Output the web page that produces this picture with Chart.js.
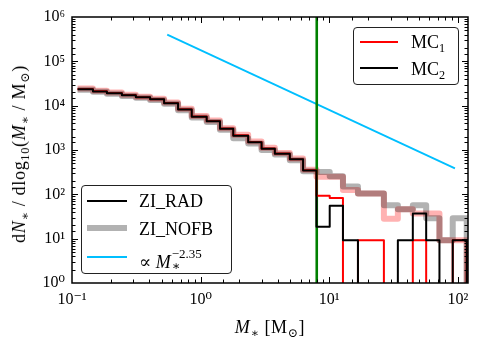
<!DOCTYPE html>
<html>
<head>
<meta charset="utf-8">
<script src="https://cdn.jsdelivr.net/npm/chart.js@4.4.1/dist/chart.umd.min.js"></script>
<style>
html,body{margin:0;padding:0;background:#fff;}
#wrap{position:relative;width:478px;height:354px;overflow:hidden;}
#c{position:absolute;left:0;top:0;}
.t{position:absolute;font-family:'Liberation Serif','DejaVu Serif',serif;color:#000;white-space:nowrap;line-height:1;font-size:18px;}
.t sub{font-size:0.68em;vertical-align:-0.3em;line-height:0;}
.box{position:absolute;border:1.5px solid #222;border-radius:4px;background:rgba(255,255,255,0.85);box-sizing:border-box;}
.sw{position:absolute;}
</style>
</head>
<body>
<div id="wrap">
<canvas id="c" width="478" height="354"></canvas>

<div class="t" id="ytitle" style="left:19px;top:154px;transform:translate(-50%,-50%) rotate(-90deg);letter-spacing:0.7px;">d<i>N</i><sub>∗</sub> / dlog<sub>10</sub>(<i>M</i><sub>∗</sub> / M<sub>⊙</sub>)</div>
<div class="t" id="xtitle" style="left:270px;top:327px;transform:translate(-50%,-50%);letter-spacing:0.6px;"><i>M</i><sub>∗</sub> [M<sub>⊙</sub>]</div>

<div class="box" style="left:353px;top:27px;width:106px;height:58px;"></div>
<div class="sw" style="left:360px;top:40.7px;width:38px;height:2px;background:#ff0000;"></div>
<div class="t" style="left:411px;top:33px;">MC<sub>1</sub></div>
<div class="sw" style="left:360px;top:67.3px;width:38px;height:2px;background:#000;"></div>
<div class="t" style="left:411px;top:60px;">MC<sub>2</sub></div>

<div class="box" style="left:81px;top:185px;width:151px;height:89px;"></div>
<div class="sw" style="left:87px;top:199.7px;width:40px;height:2px;background:#000;"></div>
<div class="t" style="left:139px;top:192px;">ZI_RAD</div>
<div class="sw" style="left:87px;top:225.3px;width:40px;height:6px;background:rgba(0,0,0,0.3);"></div>
<div class="t" style="left:139px;top:220px;">ZI_NOFB</div>
<div class="sw" style="left:87px;top:256.3px;width:40px;height:2px;background:#00bfff;"></div>
<div class="t" style="left:139px;top:250px;">∝ <i>M</i><span style="position:relative;display:inline-block;width:52px;height:1em;"><span style="position:absolute;left:1px;top:-3px;font-size:13px;">−2.35</span><span style="position:absolute;left:1px;top:10px;font-size:12.5px;">∗</span></span></div>
</div>

<script>
// ---- data ----
const binEdges = [0.1105, 0.1455, 0.1868, 0.2443, 0.3136, 0.4049, 0.5201, 0.6679, 0.8531, 1.115,
                  1.414, 1.794, 2.344, 2.979, 3.777, 4.939, 6.262, 7.96, 10.09, 12.79,
                  16.73, 20.99, 26.62, 34.18, 44.68, 56.75, 71.98, 91.29, 117.3];
// ZI_RAD, MC2 (thin black)
const radMC2 = [23600, 21000, 19100, 17100, 15400, 13900, 11400, 8240, 5660, 4450,
                3000, 2100, 1500, 1070, 825, 615, 345,
                18.5, 55.5, 9.25, 0, 0, 0, 9.25, 37, 9.25, 0, 9.25];
// ZI_RAD, MC1 (thin red)
const radMC1 = [23800, 21200, 19300, 17300, 15500, 14000, 11500, 8300, 5700, 4500,
                3050, 2150, 1520, 1080, 830, 620, 350,
                92.5, 83, 0, 9.25, 9.25, 0, 0, 9.25, 0, 0, 9.25];
// ZI_NOFB, MC2 (thick translucent black)
const nofbMC2 = [23000, 20500, 18600, 16600, 15000, 13500, 11000, 7900, 5400, 4300,
                 2850, 1850, 1400, 1000, 790, 590, 330,
                 320, 255, 150, 105, 105, 57, 46, 57, 29, 9.25, 29];
// ZI_NOFB, MC1 (thick translucent red)
const nofbMC1 = [24500, 21800, 19700, 17600, 15900, 14300, 11800, 8500, 5850, 4600,
                 3100, 2200, 1560, 1120, 860, 640, 360,
                 250, 250, 125, 105, 105, 28, 46, 37, 37, 9.25, 9.25];
// power-law guide  ∝ M^-2.35 (end points)
const powerLawMass = [0.55, 95];
const powerLawValue = [4.0e5, 385];
// 8 Msun marker
const markerMass = 8;
const markerRange = [1, 1e6];

const FLOOR = 1e-2; // empty bins drawn below the axis (log of zero)

function stepPoints(values){
  const pts = values.map((v, i) => ({x: binEdges[i], y: v > 0 ? v : FLOOR}));
  pts.push({x: binEdges[values.length], y: FLOOR});
  return pts;
}

const SUP = {'-':'⁻','0':'⁰','1':'¹','2':'²','3':'³','4':'⁴','5':'⁵','6':'⁶','7':'⁷','8':'⁸','9':'⁹'};
function isDecade(v){ const l = Math.log10(v); return Math.abs(l - Math.round(l)) < 1e-6; }
function powLabel(v){
  if (!isDecade(v)) return '';
  const r = Math.round(Math.log10(v));
  return '10' + String(r).split('').map(c => SUP[c]).join('');
}

const framePlugin = {
  id: 'frame',
  afterDatasetsDraw(chart){
    const {ctx, chartArea: a, scales: {x, y}} = chart;
    ctx.save();
    ctx.strokeStyle = '#000';
    ctx.lineWidth = 1;
    ctx.beginPath();
    for (const t of x.ticks){
      const v = t.value;
      if (v <= x.min * 1.0001 || v >= x.max * 0.9999) continue;
      const len = isDecade(v) ? 6 : 3.5;
      const px = Math.round(x.getPixelForValue(v)) + 0.5;
      ctx.moveTo(px, a.bottom); ctx.lineTo(px, a.bottom - len);
      ctx.moveTo(px, a.top); ctx.lineTo(px, a.top + len);
    }
    for (const t of y.ticks){
      const v = t.value;
      if (v <= y.min * 1.0001 || v >= y.max * 0.9999) continue;
      const len = isDecade(v) ? 6 : 3.5;
      const py = Math.round(y.getPixelForValue(v)) + 0.5;
      ctx.moveTo(a.left, py); ctx.lineTo(a.left + len, py);
      ctx.moveTo(a.right, py); ctx.lineTo(a.right - len, py);
    }
    ctx.stroke();
    ctx.lineWidth = 1.5;
    ctx.strokeRect(a.left, a.top, a.right - a.left, a.bottom - a.top);
    ctx.restore();
  }
};

const thin = 2, thick = 6;
const base = {showLine: true, pointRadius: 0, pointHoverRadius: 0, fill: false, clip: 0, borderJoinStyle: 'round'};

new Chart(document.getElementById('c'), {
  type: 'scatter',
  data: {
    datasets: [
      {...base, label: 'ZI_RAD MC2', data: stepPoints(radMC2), stepped: 'before', borderColor: '#000000', borderWidth: thin},
      {...base, label: 'ZI_RAD MC1', data: stepPoints(radMC1), stepped: 'before', borderColor: '#ff0000', borderWidth: thin},
      {...base, label: '8 Msun', data: markerRange.map(v => ({x: markerMass, y: v})), borderColor: '#008000', borderWidth: 2.6},
      {...base, label: 'power law', data: powerLawMass.map((m, i) => ({x: m, y: powerLawValue[i]})), borderColor: '#00bfff', borderWidth: 1.8},
      {...base, label: 'ZI_NOFB MC2', data: stepPoints(nofbMC2), stepped: 'before', borderColor: 'rgba(0,0,0,0.3)', borderWidth: thick},
      {...base, label: 'ZI_NOFB MC1', data: stepPoints(nofbMC1), stepped: 'before', borderColor: 'rgba(255,0,0,0.3)', borderWidth: thick}
    ]
  },
  options: {
    responsive: false,
    animation: false,
    layout: {padding: {top: 17, right: 10, left: 0, bottom: 0}},
    plugins: {legend: {display: false}, tooltip: {enabled: false}},
    scales: {
      x: {
        type: 'logarithmic', min: 0.1, max: 120,
        grid: {display: false, drawTicks: false}, border: {display: false},
        ticks: {autoSkip: false, maxRotation: 0, padding: 7, color: '#000',
                font: {family: "'Liberation Serif','DejaVu Serif',serif", size: 16},
                callback: (v) => powLabel(v)},
        afterFit(s){ s.height = 71; }
      },
      y: {
        type: 'logarithmic', min: 1, max: 1e6,
        grid: {display: false, drawTicks: false}, border: {display: false},
        ticks: {autoSkip: false, padding: 7, color: '#000',
                font: {family: "'Liberation Serif','DejaVu Serif',serif", size: 16},
                callback: (v) => powLabel(v)},
        afterFit(s){ s.width = 72; }
      }
    }
  },
  plugins: [framePlugin]
});
</script>
</body>
</html>
